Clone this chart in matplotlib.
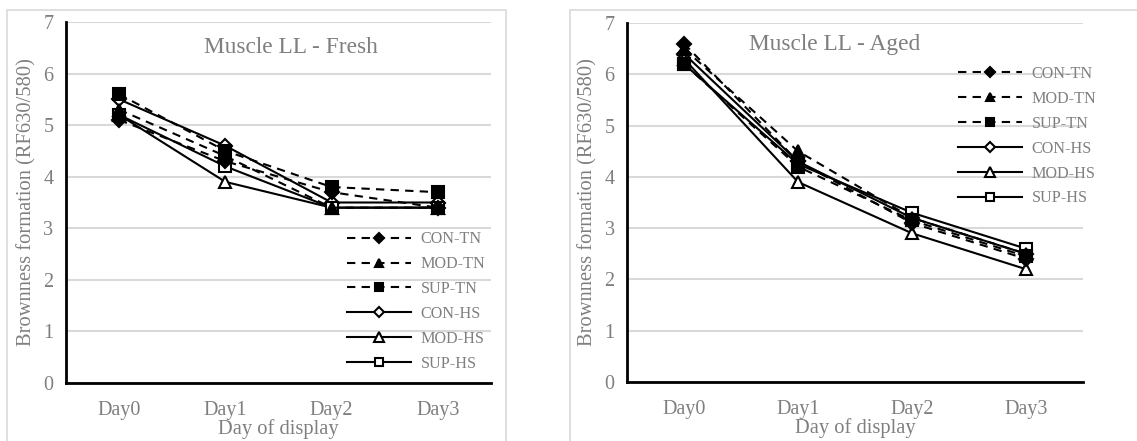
import matplotlib
matplotlib.use("Agg")
import matplotlib.pyplot as plt
from matplotlib.patches import Rectangle

plt.rcParams['font.family'] = ['Liberation Serif', 'DejaVu Serif']

days = ["Day0", "Day1", "Day2", "Day3"]
series_names = ["CON-TN", "MOD-TN", "SUP-TN", "CON-HS", "MOD-HS", "SUP-HS"]

fresh_con_tn = [5.1, 4.3, 3.7, 3.4]
fresh_mod_tn = [5.3, 4.4, 3.4, 3.4]
fresh_sup_tn = [5.6, 4.5, 3.8, 3.7]
fresh_con_hs = [5.5, 4.6, 3.5, 3.5]
fresh_mod_hs = [5.2, 3.9, 3.4, 3.4]
fresh_sup_hs = [5.2, 4.2, 3.4, 3.4]

aged_con_tn = [6.6, 4.3, 3.1, 2.4]
aged_mod_tn = [6.5, 4.5, 3.2, 2.5]
aged_sup_tn = [6.2, 4.2, 3.15, 2.45]
aged_con_hs = [6.4, 4.3, 3.2, 2.5]
aged_mod_hs = [6.3, 3.9, 2.9, 2.2]
aged_sup_hs = [6.2, 4.25, 3.3, 2.6]

fresh = [fresh_con_tn, fresh_mod_tn, fresh_sup_tn, fresh_con_hs, fresh_mod_hs, fresh_sup_hs]
aged = [aged_con_tn, aged_mod_tn, aged_sup_tn, aged_con_hs, aged_mod_hs, aged_sup_hs]

styles = [
    dict(ls=(0, (4, 3)), marker='D', mfc='black', ms=7, z=4),
    dict(ls=(0, (4, 3)), marker='^', mfc='black', ms=8, z=4),
    dict(ls=(0, (4, 3)), marker='s', mfc='black', ms=8, z=4),
    dict(ls='-', marker='D', mfc='white', ms=7, z=3),
    dict(ls='-', marker='^', mfc='white', ms=9, z=3),
    dict(ls='-', marker='s', mfc='white', ms=8, z=3),
]

GRAY = '#7f7f7f'
fig = plt.figure(figsize=(11.37, 4.41), dpi=100)

# panel borders
fig.patches.append(Rectangle((7/1137, -0.01), (506-7)/1137, (441-10)/441 + 0.01,
                             transform=fig.transFigure, fill=False, ec='#d9d9d9', lw=1.2))
fig.patches.append(Rectangle((570/1137, -0.01), (1140-570)/1137, (441-10)/441 + 0.01,
                             transform=fig.transFigure, fill=False, ec='#d9d9d9', lw=1.2))

def make_panel(rect, data, title, title_xy, leg_anchor):
    ax = fig.add_axes(rect)
    x = list(range(len(days)))
    handles = []
    for vals, st, name in zip(data, styles, series_names):
        h, = ax.plot(x, vals, color='black', lw=1.5, ls=st['ls'], marker=st['marker'],
                     mfc=st['mfc'], mec='black', mew=1.5, ms=st['ms'], label=name,
                     zorder=st['z'])
        handles.append(h)
    ax.set_xlim(-0.5, 3.5)
    ax.set_ylim(0, 7)
    ax.set_xticks(x)
    ax.set_xticklabels(days)
    ax.set_yticks(range(0, 8))
    ax.grid(axis='y', color='#d9d9d9', lw=1.5)
    ax.set_axisbelow(True)
    for s in ['top', 'right']:
        ax.spines[s].set_visible(False)
    for s in ['left', 'bottom']:
        ax.spines[s].set_color('black')
        ax.spines[s].set_linewidth(2)
    ax.tick_params(length=0, labelsize=14.5, labelcolor=GRAY, pad=9)
    ax.tick_params(axis='x', pad=13)
    ax.set_xlabel("Day of display", fontsize=14.8, color=GRAY, labelpad=-1)
    ax.set_ylabel("Brownness formation (RF630/580)", fontsize=14.8, color=GRAY, labelpad=5)
    ax.text(title_xy[0], title_xy[1], title, transform=ax.transAxes, fontsize=16.8,
            color=GRAY, ha='center', va='center')
    ax.legend(handles=handles, loc='upper left', bbox_to_anchor=leg_anchor,
              frameon=False, fontsize=11.6, labelcolor=GRAY, handlelength=4.0,
              labelspacing=0.55, markerscale=0.75, borderpad=0, borderaxespad=0,
              handletextpad=0.6)
    return ax

make_panel([66/1137, 58/441, 425/1137, 361/441], fresh, "Muscle LL - Fresh",
           (0.53, 0.93), (0.66, 0.42))
make_panel([627/1137, 59/441, 456/1137, 359/441], aged, "Muscle LL - Aged",
           (0.456, 0.94), (0.725, 0.88))

fig.savefig("out.png", dpi=100)
